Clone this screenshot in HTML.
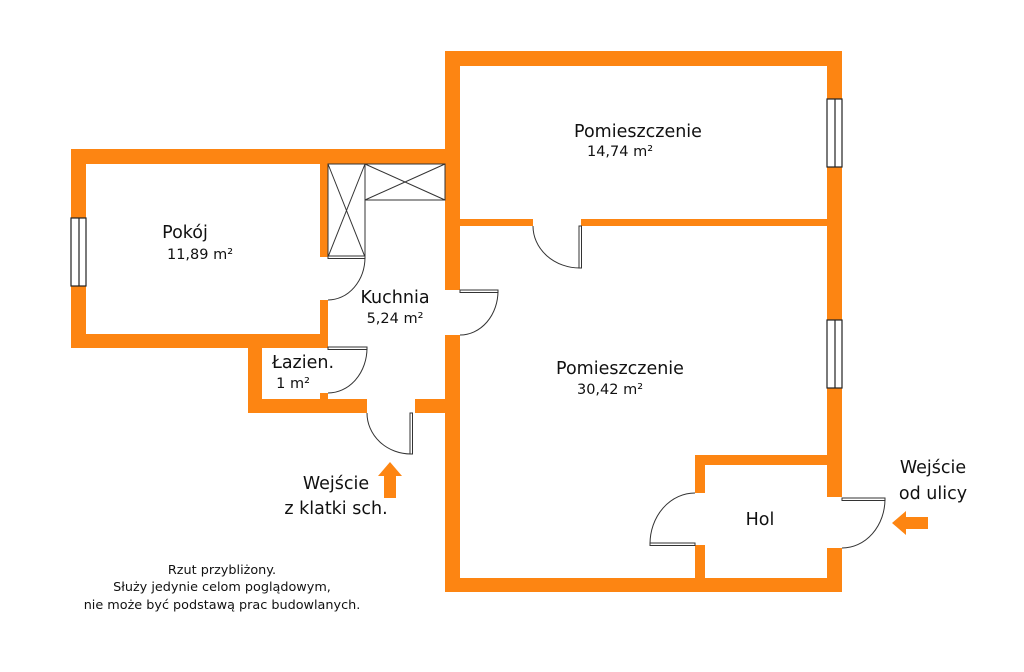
<!DOCTYPE html>
<html><head><meta charset="utf-8"><style>
html,body{margin:0;padding:0;background:#fff;}
svg{display:block;}
text{font-family:"DejaVu Sans","Liberation Sans",sans-serif;fill:#111;}
</style></head><body>
<svg width="1024" height="672" viewBox="0 0 1024 672" xmlns="http://www.w3.org/2000/svg">
<g fill="#fd8512">
<rect x="445" y="51" width="397" height="15"/>
<rect x="827" y="51" width="15" height="446"/>
<rect x="827" y="548" width="15" height="44"/>
<rect x="445" y="578" width="397" height="14"/>
<rect x="445" y="51" width="15" height="239"/>
<rect x="445" y="335" width="15" height="257"/>
<rect x="460" y="219" width="73" height="7"/>
<rect x="581" y="219" width="246" height="7"/>
<rect x="695" y="455" width="132" height="10"/>
<rect x="695" y="455" width="10" height="38"/>
<rect x="695" y="545" width="10" height="33"/>
<rect x="71" y="149" width="374" height="15"/>
<rect x="71" y="149" width="15" height="199"/>
<rect x="71" y="334" width="257" height="14"/>
<rect x="320" y="164" width="8" height="93"/>
<rect x="320" y="300" width="8" height="48"/>
<rect x="248" y="334" width="14" height="79"/>
<rect x="248" y="399" width="119" height="14"/>
<rect x="320" y="393" width="8" height="7"/>
<rect x="415" y="399" width="30" height="14"/>
</g>
<g fill="#fff" stroke="#222" stroke-width="1.2">
<rect x="827" y="99" width="15" height="68"/>
<line x1="835" y1="99" x2="835" y2="167"/>
<rect x="827" y="320" width="15" height="68"/>
<line x1="835" y1="320" x2="835" y2="388"/>
<rect x="71" y="218" width="15" height="68"/>
<line x1="79" y1="218" x2="79" y2="286"/>
</g>
<g fill="none" stroke="#333" stroke-width="1">
<rect x="328" y="164" width="37" height="93"/>
<line x1="328" y1="164" x2="365" y2="257"/><line x1="365" y1="164" x2="328" y2="257"/>
<rect x="365" y="164" width="80" height="36"/>
<line x1="365" y1="164" x2="445" y2="200"/><line x1="445" y1="164" x2="365" y2="200"/>
</g>
<g fill="none" stroke="#333" stroke-width="1">
<rect x="579" y="226" width="2.5" height="42" fill="#fff"/>
<path d="M533 226 A47 42 0 0 0 580 268"/>
<rect x="328" y="256" width="37" height="2.5" fill="#fff"/>
<path d="M365 257 A37 43 0 0 1 328 300"/>
<rect x="328" y="347" width="39" height="2.5" fill="#fff"/>
<path d="M367 348 A39 45 0 0 1 328 393"/>
<rect x="460" y="290" width="38" height="2.5" fill="#fff"/>
<path d="M498 291 A38 44 0 0 1 460 335"/>
<rect x="410" y="413" width="2.5" height="41" fill="#fff"/>
<path d="M367 413 A44 41 0 0 0 411 454"/>
<rect x="650" y="543" width="45" height="2.5" fill="#fff"/>
<path d="M695 493 A45 51 0 0 0 650 544"/>
<rect x="842" y="498" width="43" height="2.5" fill="#fff"/>
<path d="M885 499 A43 49 0 0 1 842 548"/>
</g>
<g fill="#fd8512">
<polygon points="390,462 402,476 396,476 396,498 384,498 384,476 378,476"/>
<polygon points="892,523 906,511 906,517 928,517 928,529 906,529 906,535"/>
</g>
<g font-size="17.5">
<text x="638" y="137" text-anchor="middle">Pomieszczenie</text>
<text x="620" y="156" text-anchor="middle" font-size="14.5">14,74 m²</text>
<text x="185" y="238" text-anchor="middle">Pokój</text>
<text x="200" y="259" text-anchor="middle" font-size="14.5">11,89 m²</text>
<text x="395" y="303" text-anchor="middle">Kuchnia</text>
<text x="395" y="323" text-anchor="middle" font-size="14.5">5,24 m²</text>
<text x="303" y="368" text-anchor="middle">Łazien.</text>
<text x="293" y="388" text-anchor="middle" font-size="14.5">1 m²</text>
<text x="620" y="374" text-anchor="middle">Pomieszczenie</text>
<text x="610" y="394" text-anchor="middle" font-size="14.5">30,42 m²</text>
<text x="760" y="525" text-anchor="middle">Hol</text>
<text x="336" y="489" text-anchor="middle">Wejście</text>
<text x="336" y="514" text-anchor="middle">z klatki sch.</text>
<text x="933" y="473" text-anchor="middle">Wejście</text>
<text x="933" y="499" text-anchor="middle">od ulicy</text>
</g>
<g font-size="12.8" text-anchor="middle">
<text x="222" y="574">Rzut przybliżony.</text>
<text x="222" y="591">Służy jedynie celom poglądowym,</text>
<text x="222" y="609">nie może być podstawą prac budowlanych.</text>
</g>
</svg>
</body></html>
